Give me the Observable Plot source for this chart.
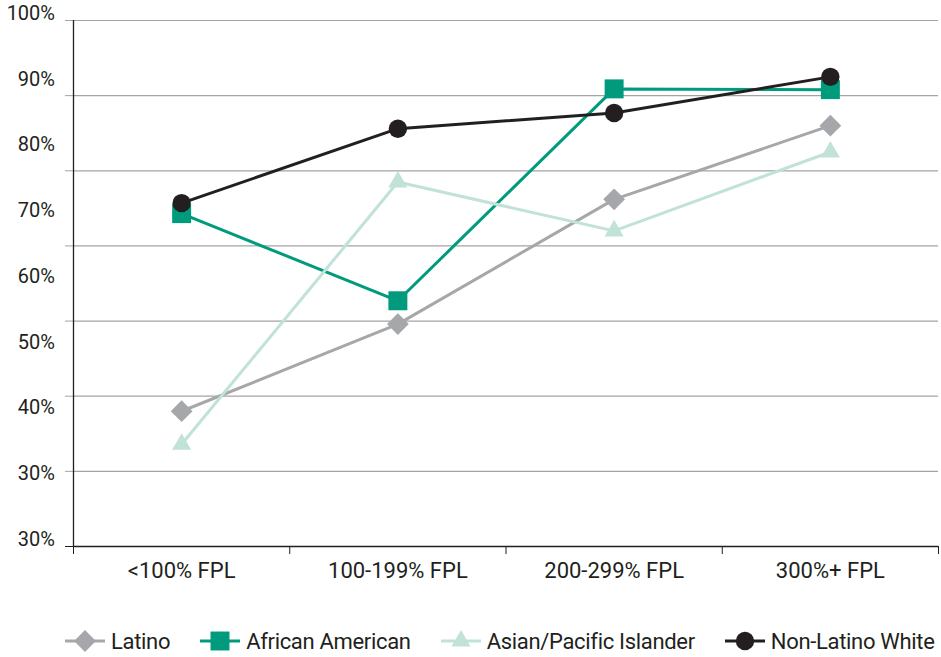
<!DOCTYPE html>
<html>
<head>
<meta charset="utf-8">
<script src="https://cdn.jsdelivr.net/npm/d3@7"></script>
<script src="https://cdn.jsdelivr.net/npm/@observablehq/plot@0.6"></script>
<style>
  html, body { margin: 0; padding: 0; background: #fff; }
  #chart { width: 941px; font-family: Roboto, sans-serif; color: #231f20; }
  #legend { display: flex; align-items: center; height: 46px; margin-top: 18px; padding-left: 65px; gap: 30px; }
  .item { display: flex; align-items: center; gap: 6px; font-size: 22px; letter-spacing: -0.32px; white-space: nowrap; }
  .item svg { display: block; }
</style>
</head>
<body>
<div id="chart"></div>
<script>
// Income groups along the x axis
const categories = ["<100% FPL", "100-199% FPL", "200-299% FPL", "300%+ FPL"];

// Series, in drawing order (last drawn on top)
const seriesNames = ["Latino", "African American", "Asian/Pacific Islander", "Non-Latino White"];
const latino          = [48.0, 59.6, 76.2, 86.0];
const africanAmerican = [74.3, 62.7, 90.9, 90.8];
const asianPacific    = [43.6, 78.5, 72.0, 82.5];
const nonLatinoWhite  = [75.7, 85.6, 87.7, 92.5];
const seriesValues = [latino, africanAmerican, asianPacific, nonLatinoWhite];

const seriesColors  = ["#a6a7aa", "#009b7d", "#c1e2d6", "#231f20"];
const seriesSymbols = ["diamond2", "square", "triangle", "circle"];
const seriesRadius  = [9.8, 10.7, 7.1, 9.2];

// Gridlines and the y tick labels (labels are spread evenly down the axis)
const yGrid = [30, 40, 50, 60, 70, 80, 90, 100];
const yTickLabels = ["100%", "90%", "80%", "70%", "60%", "50%", "40%", "30%", "30%"];
const yLabelPos = yTickLabels.map((_, i) => 100 - i * (70 / (yTickLabels.length - 1)));

const rows = seriesNames.flatMap((name, s) =>
  seriesValues[s].map((value, i) => ({series: name, cat: categories[i], i, value}))
);

const centerX = d => d.i + 0.5;
const ink = "#231f20";
const gridColor = "#a3a3a3";

const seriesMarks = seriesNames.flatMap((name, s) => {
  const data = rows.filter(d => d.series === name);
  return [
    Plot.line(data, {x: centerX, y: "value", stroke: seriesColors[s], strokeWidth: 3}),
    Plot.dot(data, {x: centerX, y: "value", symbol: seriesSymbols[s], r: seriesRadius[s], fill: seriesColors[s], stroke: "none"})
  ];
});

const plot = Plot.plot({
  width: 941,
  height: 600,
  marginTop: 20,
  marginBottom: 54,
  marginLeft: 73,
  marginRight: 3,
  style: {fontFamily: "Roboto, sans-serif", color: ink, background: "#fff"},
  x: {domain: [0, categories.length], axis: null},
  y: {domain: [30, 100], axis: null},
  marks: [
    // horizontal gridlines
    Plot.ruleY(yGrid.slice(1), {x1: 0, x2: categories.length, stroke: gridColor, strokeWidth: 1.2}),
    // short tick stubs left of the y axis
    Plot.axisY({ticks: yGrid.slice(1), tickSize: 8, tickFormat: () => "", stroke: gridColor, label: null}),
    Plot.axisY({ticks: yGrid.slice(0, 1), tickSize: 8, tickFormat: () => "", stroke: ink, label: null}),
    // y tick labels
    Plot.axisY({
      ticks: yLabelPos, tickSize: 0, tickPadding: 18.5, dy: -7, label: null,
      tickFormat: d => yTickLabels[yLabelPos.indexOf(d)],
      fontSize: 20, fill: ink
    }),
    // boundary ticks under the x axis
    Plot.axisX({ticks: d3.range(categories.length + 1), tickSize: 8, tickFormat: () => "", stroke: ink, label: null}),
    // category labels
    Plot.axisX({
      ticks: categories.map((_, i) => i + 0.5), tickSize: 0, tickPadding: 16, label: null,
      tickFormat: d => categories[Math.floor(d)],
      fontSize: 22, fill: ink, style: {letterSpacing: "-0.6px"}
    }),
    // axis lines
    Plot.ruleX([0], {stroke: ink, strokeWidth: 1.3}),
    Plot.ruleY([30], {stroke: ink, strokeWidth: 1.3}),
    ...seriesMarks
  ]
});

const chart = document.getElementById("chart");
chart.appendChild(plot);

// Legend: line-and-marker swatch followed by the series name
const legend = document.createElement("div");
legend.id = "legend";
seriesNames.forEach((name, s) => {
  const item = document.createElement("div");
  item.className = "item";
  const sw = d3.create("svg").attr("width", 40).attr("height", 24);
  sw.append("line").attr("x1", 0).attr("x2", 40).attr("y1", 12).attr("y2", 12)
    .attr("stroke", seriesColors[s]).attr("stroke-width", 3);
  const symbolType = {diamond2: d3.symbolDiamond2, square: d3.symbolSquare, triangle: d3.symbolTriangle, circle: d3.symbolCircle}[seriesSymbols[s]];
  const r = seriesRadius[s];
  sw.append("path").attr("transform", "translate(20,12)")
    .attr("d", d3.symbol(symbolType, Math.PI * r * r)())
    .attr("fill", seriesColors[s]);
  item.appendChild(sw.node());
  const label = document.createElement("span");
  label.textContent = name;
  item.appendChild(label);
  legend.appendChild(item);
});
chart.appendChild(legend);
</script>
</body>
</html>
